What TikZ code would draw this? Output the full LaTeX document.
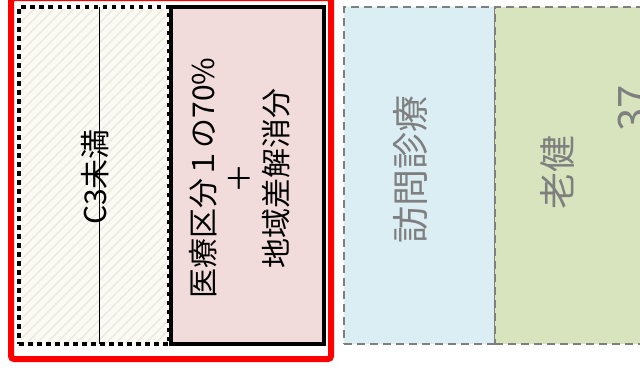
\documentclass[tikz,border=0pt]{standalone}
\usepackage{fontspec}
\setmainfont{Noto Sans CJK JP}
\usetikzlibrary{patterns.meta}
\definecolor{pinkfill}{HTML}{F2DCDB}
\definecolor{bluefill}{HTML}{DAEEF3}
\definecolor{greenfill}{HTML}{D7E4BD}
\definecolor{greytext}{HTML}{7F7F7F}
\definecolor{creamfill}{HTML}{FCFAF5}
\definecolor{hatchcol}{HTML}{EEEAE0}
\tikzset{
  box/.style={rectangle, inner sep=0pt, outer sep=0pt},
  dottedbox/.style={box, draw=black, line width=4pt, dash pattern=on 4.5pt off 4.5pt, fill=creamfill},
  solidbox/.style={box, draw=black, line width=4pt, fill=pinkfill},
  greybox/.style={box, draw=greytext, line width=2.4pt, dash pattern=on 8pt off 5pt},
  redframe/.style={box, draw=red, line width=6pt, rounded corners=3pt},
  vlabel/.style={rotate=90, inner sep=0pt, align=center},
}
\begin{document}
\begin{tikzpicture}[x=1pt,y=-1pt]
\clip (0,0) rectangle (640,370);
\fill[white] (0,0) rectangle (640,370);
% right boxes
\node[greybox, fill=bluefill, minimum width=151pt, minimum height=337pt] (visit) at (419.5,175.5) {};
\node[greybox, fill=greenfill, minimum width=205pt, minimum height=337pt] (roken) at (597.5,175.5) {};
% C3 box
\node[dottedbox, minimum width=150pt, minimum height=337pt] (c3) at (94,175.5) {};
\fill[pattern={Lines[angle=45,distance=7pt,line width=1.6pt]}, pattern color=hatchcol]
  ([xshift=2pt,yshift=-2pt]c3.north west) rectangle ([xshift=-2pt,yshift=2pt]c3.south east);
\node[dottedbox, fill=none, minimum width=150pt, minimum height=337pt] (c3b) at (94,175.5) {};
\coordinate (lt) at (99,7);
\coordinate (lb) at (99,344);
\draw[line width=0.8pt] (lt) -- (lb);
% pink box
\node[solidbox, minimum width=153pt, minimum height=337pt] (iryo) at (247.5,175.5) {};
% red frame
\node[redframe, minimum width=320pt, minimum height=361pt] (frame) at (171,178.5) {};
% labels
\node[vlabel, font=\fontsize{30}{34}\selectfont] (c3t) at (95,177) {C3未満};
\node[vlabel, font=\fontsize{30}{36.5}\selectfont] (iryot) at (239.5,178) {医療区分１の70\%\\＋\\地域差解消分};
\node[vlabel, text=greytext, font=\fontsize{37}{44}\selectfont] (visitt) at (410,169) {訪問診療};
\node[vlabel, text=greytext, font=\fontsize{37}{44}\selectfont] (rokent) at (557,172) {老健};
\node[vlabel, text=greytext, font=\fontsize{42}{50}\selectfont] (num) at (634,108) {37};
\end{tikzpicture}
\end{document}
